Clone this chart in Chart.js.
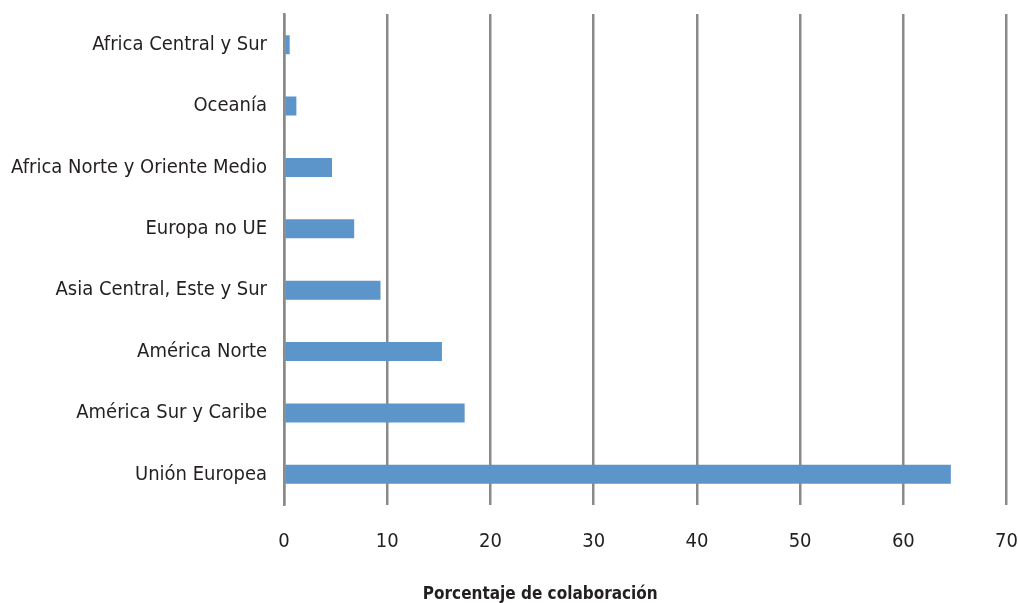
<!DOCTYPE html>
<html>
<head>
<meta charset="utf-8">
<script src="https://cdn.jsdelivr.net/npm/chart.js@4"></script>
<style>
  html, body { margin: 0; padding: 0; background: #fff; }
  #wrap { width: 1018px; height: 603px; }
</style>
</head>
<body>
<div id="wrap"><canvas id="c"></canvas></div>
<script>
// ── DATA ──────────────────────────────────────────────────────────────────────
const REGIONS = [
  'Africa Central y Sur',
  'Oceanía',
  'Africa Norte y Oriente Medio',
  'Europa no UE',
  'Asia Central, Este y Sur',
  'América Norte',
  'América Sur y Caribe',
  'Unión Europea'
];
const PCT = [0.55, 1.2, 4.65, 6.8, 9.35, 15.3, 17.5, 64.6];
const X_TICKS = [0, 10, 20, 30, 40, 50, 60, 70];
const X_LABEL = 'Porcentaje de colaboración';

// ── STYLE ─────────────────────────────────────────────────────────────────────
const FONT = "'Liberation Sans Narrow', 'DejaVu Sans Condensed', 'Liberation Sans', sans-serif";
const INK = '#231f20';
const GRID = '#8a8a8a';

// axis title drawn below the ticks, centred like the original
const bottomTitle = {
  id: 'bottomTitle',
  afterDraw(chart) {
    const ctx = chart.ctx;
    const a = chart.chartArea;
    ctx.save();
    ctx.font = "bold 17px " + FONT;
    ctx.fillStyle = INK;
    ctx.textAlign = 'center';
    ctx.textBaseline = 'middle';
    ctx.fillText(X_LABEL, (a.left + a.right) / 2 - 105, a.bottom + 90);
    ctx.restore();
  }
};

new Chart(document.getElementById('c'), {
  type: 'bar',
  data: {
    labels: REGIONS,
    datasets: [{
      data: PCT,
      backgroundColor: '#5b95c9',
      borderWidth: 0,
      barPercentage: 0.31,
      categoryPercentage: 1
    }]
  },
  options: {
    indexAxis: 'y',
    responsive: true,
    maintainAspectRatio: false,
    animation: false,
    layout: { padding: { top: 14, right: 0, left: 0, bottom: 0 } },
    plugins: { legend: { display: false }, tooltip: { enabled: false } },
    scales: {
      x: {
        min: 0, max: 70,
        afterBuildTicks: s => { s.ticks = X_TICKS.map(v => ({ value: v })); },
        afterFit: s => { s.height = 98; },
        // invisible tick marks give the label gap without extra edge padding
        grid: { color: GRID, lineWidth: 2.5, drawTicks: true, tickLength: 25, tickColor: 'transparent' },
        border: { display: false },
        ticks: { color: INK, padding: 0, font: { family: FONT, size: 20 } }
      },
      y: {
        afterFit: s => { s.width = 284; },
        grid: { display: false, drawTicks: true, tickLength: 17, tickColor: 'transparent' },
        border: { color: GRID, width: 2.5 },
        ticks: { color: INK, padding: 0, font: { family: FONT, size: 20 } }
      }
    }
  },
  plugins: [bottomTitle]
});
</script>
</body>
</html>
